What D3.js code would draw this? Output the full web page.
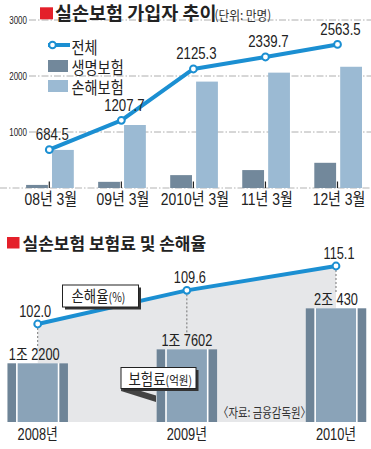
<!DOCTYPE html>
<html><head><meta charset="utf-8">
<script src="https://cdn.jsdelivr.net/npm/d3@7/dist/d3.min.js"></script>
<style>
html,body{margin:0;padding:0;background:#fff;}
svg{display:block;}
text{font-family:"Liberation Sans","Noto Sans CJK KR",sans-serif;fill:#222;}
</style></head>
<body>
<svg id="chart" width="371" height="449"></svg>
<script>
// ---------- data: top chart ----------
const topCategories = ["08년 3월", "09년 3월", "2010년 3월", "11년 3월", "12년 3월"];
const totalSubscribers = [684.5, 1207.7, 2125.3, 2339.7, 2563.5];
const lifeInsurance = [55, 110, 230, 320, 450];
const nonLifeInsurance = [680, 1125, 1900, 2060, 2165];
const topTicks = [1000, 2000, 3000];
const topLegend = ["전체", "생명보험", "손해보험"];

// ---------- data: bottom chart ----------
const years = ["2008년", "2009년", "2010년"];
const lossRatio = [102.0, 109.6, 115.1];
const premiums = [12200, 17602, 20430];
const premiumLabels = ["1조 2200", "1조 7602", "2조 430"];

const BLUE = "#1b8fd2", DARK = "#72889b", LIGHT = "#9bbad3", RED = "#e4202a";
const svg = d3.select("#chart");

function T(sel, x, y, s, size, opt = {}) {
  const t = sel.append("text")
    .attr("transform", `translate(${x},${y}) scale(${opt.sx ?? 0.82},1)`)
    .attr("text-anchor", opt.anchor || "middle")
    .style("font-size", size + "px");
  if (opt.weight) t.style("font-weight", opt.weight);
  if (opt.fill) t.style("fill", opt.fill);
  if (opt.family) t.style("font-family", opt.family);
  t.text(s);
  return t;
}

// ================= TOP CHART =================
const gt = svg.append("g");
const xT = d3.scalePoint().domain(topCategories).range([49.3, 337.5]);
const yT = d3.scaleLinear().domain([0, 3000]).range([188, 20]);

// gridlines
gt.selectAll("line.grid").data(topTicks).join("line")
  .attr("x1", 29).attr("x2", 371)
  .attr("y1", d => yT(d)).attr("y2", d => yT(d))
  .attr("stroke", "#9a9a9a").attr("stroke-width", 0.8)
  .attr("stroke-dasharray", "7,2,1.5,2");
// baseline
gt.append("line").attr("x1", 0).attr("x2", 371)
  .attr("y1", yT(0)).attr("y2", yT(0))
  .attr("stroke", "#aaa").attr("stroke-width", 0.9)
  .attr("stroke-dasharray", "7,2,1.5,2");
// tick labels
topTicks.forEach(v => T(gt, 27, yT(v) + 3.5, d3.format("d")(v), 10, {anchor: "end", sx: 0.8}));

// title
gt.append("rect").attr("x", 40).attr("y", 7.3).attr("width", 13).attr("height", 12).attr("fill", RED);
T(gt, 55, 20, "실손보험 가입자 추이", 18.5, {anchor: "start", sx: 1, weight: "bold", family: "'Noto Sans CJK KR'"});
T(gt, 214.5, 19.5, "(단위: 만명)", 13, {anchor: "start", sx: 0.9, fill: "#333", family: "'Noto Sans CJK KR'"});

// bars
const bwT = 21.8;
gt.selectAll("rect.life").data(lifeInsurance).join("rect")
  .attr("x", (d, i) => xT(topCategories[i]) - 23.2).attr("width", bwT)
  .attr("y", d => yT(d)).attr("height", d => yT(0) - yT(d)).attr("fill", DARK);
gt.selectAll("rect.nonlife").data(nonLifeInsurance).join("rect")
  .attr("x", (d, i) => xT(topCategories[i]) + 2.7).attr("width", bwT)
  .attr("y", d => yT(d)).attr("height", d => yT(0) - yT(d)).attr("fill", LIGHT);
// tick marks
gt.selectAll("line.tick").data(topCategories).join("line")
  .attr("x1", d => xT(d)).attr("x2", d => xT(d))
  .attr("y1", yT(0) - 6.5).attr("y2", yT(0))
  .attr("stroke", "#222").attr("stroke-width", 1.2);
// x labels
topCategories.forEach(c => T(gt, xT(c) + 1.5, 205, c, 17));

// line
const lineT = d3.line().x((d, i) => xT(topCategories[i])).y(d => yT(d));
gt.append("path").datum(totalSubscribers).attr("d", lineT)
  .attr("fill", "none").attr("stroke", BLUE).attr("stroke-width", 4).attr("stroke-linejoin", "round");
gt.selectAll("circle.pt").data(totalSubscribers).join("circle")
  .attr("cx", (d, i) => xT(topCategories[i])).attr("cy", d => yT(d)).attr("r", 3.4)
  .attr("fill", "#fff").attr("stroke", BLUE).attr("stroke-width", 2);
totalSubscribers.forEach((v, i) =>
  T(gt, xT(topCategories[i]) + 3, yT(v) - 9.5, d3.format(".1f")(v), 16.5, {sx: 0.8}));

// legend
gt.append("line").attr("x1", 48).attr("x2", 70).attr("y1", 45).attr("y2", 45)
  .attr("stroke", BLUE).attr("stroke-width", 4);
gt.append("circle").attr("cx", 52.5).attr("cy", 45).attr("r", 3.3)
  .attr("fill", "#fff").attr("stroke", BLUE).attr("stroke-width", 2);
gt.append("rect").attr("x", 48).attr("y", 60).attr("width", 20).attr("height", 12).attr("fill", DARK);
gt.append("rect").attr("x", 48).attr("y", 80).attr("width", 20).attr("height", 12).attr("fill", LIGHT);
[53.5, 73.5, 93.5].forEach((y, i) => T(gt, 71.5, y, topLegend[i], 16.5, {anchor: "start", sx: 0.86, family: "'Noto Sans CJK KR'"}));

// ================= BOTTOM CHART =================
const gb = svg.append("g");
const xB = d3.scalePoint().domain(years).range([37.7, 336]);
const yL = d3.scaleLinear().domain([102, 115.1]).range([324, 266]);
// stylised (not to scale) premium bars: piecewise scale
const yP = d3.scaleLinear().domain([0, 12200, 17602, 20430]).range([422, 363.3, 349.3, 308.3]);

// title
gb.append("rect").attr("x", 7).attr("y", 237).attr("width", 12.5).attr("height", 11.5).attr("fill", RED);
T(gb, 22.5, 249.5, "실손보험 보험료 및 손해율", 17, {anchor: "start", sx: 1, weight: "bold", family: "'Noto Sans CJK KR'"});

// area under loss ratio
const areaB = d3.area().x((d, i) => xB(years[i])).y0(yP(0)).y1(d => yL(d));
gb.append("path").datum(lossRatio).attr("d", areaB).attr("fill", "#e6e7e9");

// premium bars (three strips each)
const bw = 60.5, strip = 8.6, gap = 1.6;
premiums.forEach((v, i) => {
  const c = xB(years[i]), x0 = c - bw / 2, top = yP(v), h = yP(0) - top;
  gb.append("rect").attr("x", x0).attr("y", top).attr("width", bw).attr("height", h).attr("fill", "#fff");
  gb.append("rect").attr("x", x0).attr("y", top).attr("width", strip).attr("height", h).attr("fill", "#6e8497");
  gb.append("rect").attr("x", x0 + strip + gap).attr("y", top).attr("width", bw - 2 * (strip + gap)).attr("height", h).attr("fill", "#8aa3b8");
  gb.append("rect").attr("x", x0 + bw - strip).attr("y", top).attr("width", strip).attr("height", h).attr("fill", "#6e8497");
  T(gb, c - (i === 0 ? 3.5 : 0), top - 3.3, premiumLabels[i], 16, {sx: 0.8});
  T(gb, c, 440, years[i], 16, {sx: 0.8});
  // dashed drop line
  gb.append("line").attr("x1", xB(years[i])).attr("x2", xB(years[i]))
    .attr("y1", yL(lossRatio[i]) + 4).attr("y2", top - 15)
    .attr("stroke", "#555").attr("stroke-width", 0.8).attr("stroke-dasharray", "2,2");
});

// loss ratio line
const lineB = d3.line().x((d, i) => xB(years[i])).y(d => yL(d));
gb.append("path").datum(lossRatio).attr("d", lineB)
  .attr("fill", "none").attr("stroke", BLUE).attr("stroke-width", 4);
gb.selectAll("circle.pt").data(lossRatio).join("circle")
  .attr("cx", (d, i) => xB(years[i])).attr("cy", d => yL(d)).attr("r", 3.4)
  .attr("fill", "#fff").attr("stroke", BLUE).attr("stroke-width", 2);
lossRatio.forEach((v, i) => T(gb, xB(years[i]) + (i === 0 ? -2.5 : 3), yL(v) - 7.5, d3.format(".1f")(v), 16, {sx: 0.8}));

// legend box: loss ratio
gb.append("rect").attr("x", 65).attr("y", 287.5).attr("width", 76).attr("height", 22).attr("fill", "#333");
gb.append("rect").attr("x", 62.5).attr("y", 285).attr("width", 76).attr("height", 22).attr("fill", "#fff").attr("stroke", "#222").attr("stroke-width", 1);
const lt1 = T(gb, 71.5, 302, "손해율", 16, {anchor: "start", sx: 0.84, family: "'Noto Sans CJK KR'"});
lt1.append("tspan").style("font-size", "12.5px").text("(%)");

// legend box: premium with pointer
gb.append("polygon").attr("points", "121,385 156,395.5 156,402 121,391").attr("fill", "#444");
gb.append("rect").attr("x", 123.5).attr("y", 370).attr("width", 75).attr("height", 21).attr("fill", "#333");
gb.append("rect").attr("x", 121).attr("y", 367.5).attr("width", 75).attr("height", 21).attr("fill", "#fff").attr("stroke", "#222").attr("stroke-width", 1);
const lt2 = T(gb, 128.5, 384.5, "보험료", 16, {anchor: "start", sx: 0.84, family: "'Noto Sans CJK KR'"});
lt2.append("tspan").style("font-size", "12.5px").text("(억원)");

// source
T(gb, 218, 416.5, "〈자료: 금융감독원〉", 13, {anchor: "start", sx: 0.8, fill: "#333", family: "'Noto Sans CJK KR'"});
</script>
</body></html>
